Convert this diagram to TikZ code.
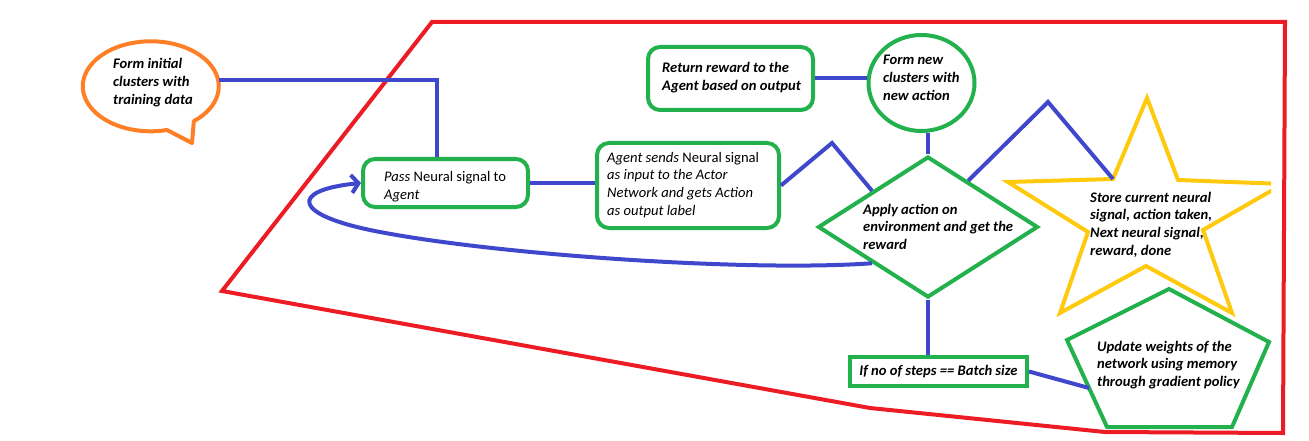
\documentclass[tikz,border=0pt]{standalone}
\usepackage{fontspec}
\setmainfont{Carlito}
\usetikzlibrary{shapes.geometric,arrows.meta,calc}
\definecolor{pgreen}{RGB}{34,177,76}
\definecolor{pblue}{RGB}{63,72,204}
\definecolor{pred}{RGB}{237,28,36}
\definecolor{porange}{RGB}{255,127,39}
\definecolor{pyellow}{RGB}{255,201,14}
\newcommand\mlines[1]{\vtop{\baselineskip=17.8pt\halign{##\hfil\cr#1\crcr}}}
\tikzset{
  lw/.style={line width=4pt},
  gbox/.style={lw, draw=pgreen, rounded corners=12pt, inner sep=0pt},
  grect/.style={lw, draw=pgreen, inner sep=0pt},
  conn/.style={lw, draw=pblue},
  txt/.style={anchor=base west, inner sep=0pt, font=\fontsize{14.6}{17.8}\selectfont\bfseries\itshape},
  ltxt/.style={anchor=base west, inner sep=0pt, font=\fontsize{14.6}{17.8}\selectfont\itshape},
}
\begin{document}
\begin{tikzpicture}[x=1pt,y=-1pt]
\useasboundingbox (0,0) rectangle (1309,441);
% red frame
\draw[lw, draw=pred] (432,22) -- (1285,22) -- (1283,433) -- (1105,432) -- (870,408) -- (222,291) -- cycle;

% speech bubble
\draw[lw, draw=porange, line join=round] (167,130) arc[start angle=76.2, end angle=410.7, x radius=68, y radius=45] -- (192,143) -- cycle;
\node[ellipse, minimum width=136, minimum height=90, inner sep=0pt] (bubble) at (151,87) {};
\node[txt] (bubbletext) at (113,69) {\mlines{Form initial\cr clusters with\cr training data}};

% boxes
\node[gbox, minimum width=165, minimum height=48] (pass) at (445.5,183) {};
\node[ltxt] (passtext) at (384,182) {\mlines{Pass \textup{Neural signal to}\cr Agent}};

\node[gbox, minimum width=182, minimum height=85] (agent) at (688,185.5) {};
\node[ltxt] (agenttext) at (607,162) {\mlines{Agent sends \textup{Neural signal}\cr as input to the Actor\cr Network and gets Action\cr as output label}};

\node[gbox, minimum width=165, minimum height=63] (ret) at (730.5,78.5) {};
\node[txt] (rettext) at (662,73) {\mlines{Return reward to the\cr Agent based on output}};

\node[ellipse, lw, draw=pgreen, minimum width=106, minimum height=96, inner sep=0pt] (circ) at (921.5,83) {};
\node[txt] (circtext) at (883,65) {\mlines{Form new\cr clusters with\cr new action}};

\node[diamond, lw, draw=pgreen, minimum width=220, minimum height=141, inner sep=0pt] (dia) at (928,227) {};
\node[txt] (diatext) at (863,214) {\mlines{Apply action on\cr environment and get the\cr reward}};

\node[grect, minimum width=177, minimum height=29, font=\fontsize{14.6}{17.8}\selectfont\bfseries\itshape] (batch) at (938.5,371.5) {If no of steps == Batch size};

% star
\begin{scope}
\clip (990,80) rectangle (1271,330);
\draw[lw, draw=pyellow] (1147,98) -- (1178,180) -- (1283,184) -- (1203,230) -- (1232,313) -- (1146,266) -- (1060,313) -- (1088,232) -- (1008,182) -- (1113,179) -- cycle;
\end{scope}
\coordinate (starin) at (1113,179);
\node[txt] (startext) at (1090,202) {\mlines{Store current neural\cr signal, action taken,\cr Next neural signal,\cr reward, done}};

% pentagon
\draw[lw, draw=pgreen] (1169,289) -- (1269,342) -- (1232,427) -- (1107,427) -- (1067,340) -- cycle;
\coordinate (pentW) at (1089,388);
\node[txt] (penttext) at (1097,351) {\mlines{Update weights of the\cr network using memory\cr through gradient policy}};

% connectors
\coordinate (zzA) at (832,143);
\coordinate (zzB) at (1048,102);
\draw[conn] ([yshift=7pt]bubble.east) -| ([xshift=-8.5pt]pass.north);
\draw[conn] (pass.east) -- (pass.east -| agent.west);
\draw[conn] (agent.east) -- (zzA) -- (dia.north west);
\draw[conn] (ret.east) -- (ret.east -| circ.west);
\draw[conn] (dia.north) -- (dia.north |- circ.south);
\draw[conn] (dia.south) -- (dia.south |- batch.north);
\draw[conn] (batch.east) -- (pentW);
\draw[conn] ($(dia.north)!0.36!(dia.east)$) -- (zzB) -- (starin);
\draw[conn, -{Straight Barb[length=7pt,width=18pt]}] (dia.south west) .. controls (750,272) and (500,255) .. (380,232) .. controls (290,215) and (290,190) .. (pass.west);
\end{tikzpicture}
\end{document}
